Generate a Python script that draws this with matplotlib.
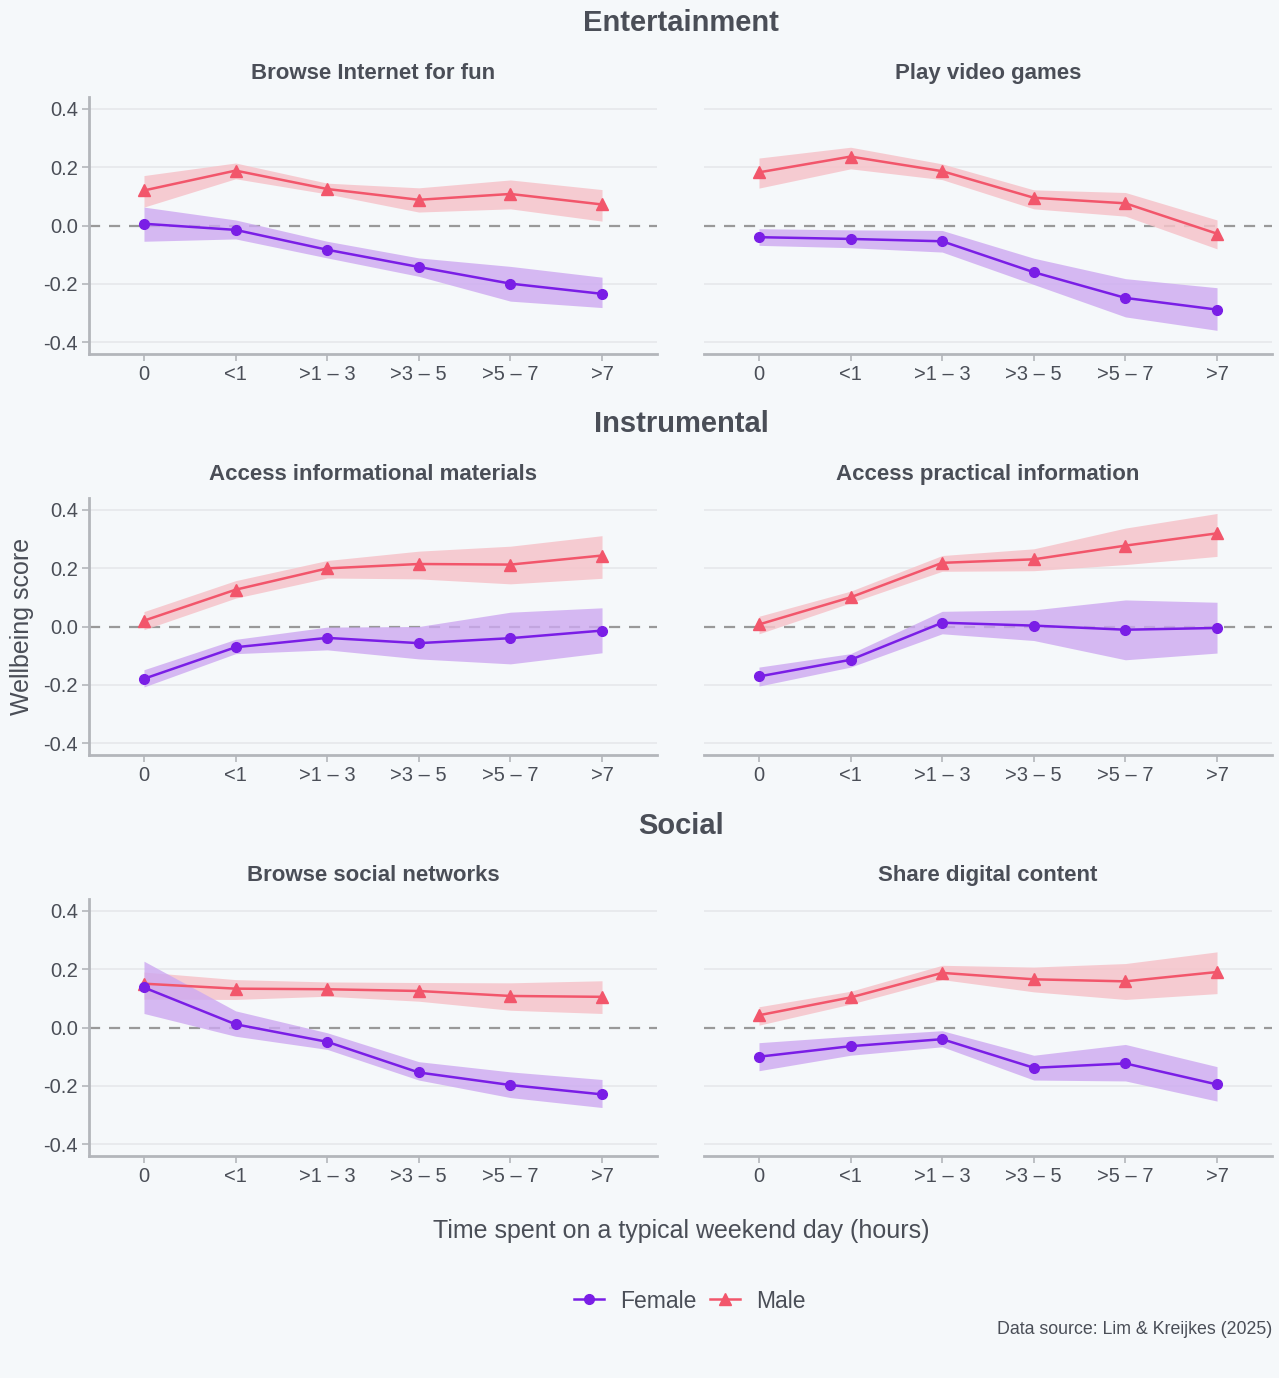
import numpy as np
import matplotlib.pyplot as plt

# categories on the x axis
time_cats = ["0", "<1", ">1 – 3", ">3 – 5", ">5 – 7", ">7"]

# Entertainment: Browse Internet for fun
internet_f = [0.006, -0.015, -0.083, -0.142, -0.199, -0.234]
internet_f_lo = [-0.054, -0.046, -0.111, -0.174, -0.259, -0.281]
internet_f_hi = [0.063, 0.019, -0.054, -0.111, -0.140, -0.177]
internet_m = [0.120, 0.188, 0.125, 0.088, 0.108, 0.072]
internet_m_lo = [0.063, 0.160, 0.108, 0.046, 0.057, 0.015]
internet_m_hi = [0.171, 0.214, 0.145, 0.129, 0.156, 0.123]

# Entertainment: Play video games
games_f = [-0.040, -0.046, -0.054, -0.160, -0.248, -0.288]
games_f_lo = [-0.068, -0.076, -0.091, -0.202, -0.313, -0.359]
games_f_hi = [-0.011, -0.015, -0.017, -0.112, -0.182, -0.213]
games_m = [0.182, 0.236, 0.186, 0.095, 0.076, -0.028]
games_m_lo = [0.128, 0.194, 0.157, 0.057, 0.032, -0.080]
games_m_hi = [0.231, 0.268, 0.211, 0.122, 0.113, 0.019]

# Instrumental: Access informational materials
infomat_f = [-0.179, -0.071, -0.039, -0.057, -0.040, -0.014]
infomat_f_lo = [-0.207, -0.093, -0.080, -0.111, -0.128, -0.090]
infomat_f_hi = [-0.148, -0.044, -0.002, 0.000, 0.049, 0.064]
infomat_m = [0.020, 0.126, 0.199, 0.214, 0.212, 0.243]
infomat_m_lo = [-0.011, 0.097, 0.166, 0.163, 0.146, 0.165]
infomat_m_hi = [0.051, 0.157, 0.226, 0.258, 0.275, 0.311]

# Instrumental: Access practical information
practical_f = [-0.171, -0.114, 0.013, 0.003, -0.011, -0.005]
practical_f_lo = [-0.204, -0.139, -0.025, -0.048, -0.114, -0.091]
practical_f_hi = [-0.139, -0.093, 0.052, 0.057, 0.091, 0.083]
practical_m = [0.007, 0.100, 0.218, 0.230, 0.277, 0.319]
practical_m_lo = [-0.025, 0.081, 0.189, 0.191, 0.212, 0.240]
practical_m_hi = [0.035, 0.121, 0.243, 0.266, 0.337, 0.387]

# Social: Browse social networks
socialnet_f = [0.137, 0.011, -0.049, -0.154, -0.197, -0.229]
socialnet_f_lo = [0.048, -0.030, -0.075, -0.180, -0.240, -0.274]
socialnet_f_hi = [0.227, 0.057, -0.018, -0.117, -0.152, -0.178]
socialnet_m = [0.150, 0.133, 0.131, 0.125, 0.108, 0.105]
socialnet_m_lo = [0.097, 0.096, 0.107, 0.090, 0.059, 0.048]
socialnet_m_hi = [0.190, 0.164, 0.156, 0.154, 0.153, 0.160]

# Social: Share digital content
share_f = [-0.100, -0.064, -0.040, -0.138, -0.123, -0.195]
share_f_lo = [-0.148, -0.095, -0.066, -0.180, -0.183, -0.252]
share_f_hi = [-0.052, -0.030, -0.011, -0.095, -0.058, -0.134]
share_m = [0.042, 0.103, 0.187, 0.165, 0.158, 0.190]
share_m_lo = [0.008, 0.080, 0.164, 0.122, 0.096, 0.116]
share_m_hi = [0.071, 0.124, 0.213, 0.207, 0.219, 0.259]

section_titles = ["Entertainment", "Instrumental", "Social"]
panel_titles = [["Browse Internet for fun", "Play video games"],
                ["Access informational materials", "Access practical information"],
                ["Browse social networks", "Share digital content"]]
panel_data = [
    [(internet_f, internet_f_lo, internet_f_hi, internet_m, internet_m_lo, internet_m_hi),
     (games_f, games_f_lo, games_f_hi, games_m, games_m_lo, games_m_hi)],
    [(infomat_f, infomat_f_lo, infomat_f_hi, infomat_m, infomat_m_lo, infomat_m_hi),
     (practical_f, practical_f_lo, practical_f_hi, practical_m, practical_m_lo, practical_m_hi)],
    [(socialnet_f, socialnet_f_lo, socialnet_f_hi, socialnet_m, socialnet_m_lo, socialnet_m_hi),
     (share_f, share_f_lo, share_f_hi, share_m, share_m_lo, share_m_hi)],
]

BG = "#f5f8fa"
TXT = "#4a4e57"
FEMALE = "#7a1ee6"
MALE = "#f2566b"
SPINE = "#b3b6bb"

plt.rcParams["font.family"] = ["Liberation Sans", "DejaVu Sans"]

fig = plt.figure(figsize=(12.79, 13.78), dpi=100, facecolor=BG)

W, H = 1279, 1378
col_left = [89, 704]
ax_w = 568
row_top = [97, 498, 899]
ax_h = 257
section_y = [23, 424, 826]

x = np.arange(len(time_cats))
handles = None
for r in range(3):
    fig.text(681 / W, 1 - section_y[r] / H, section_titles[r], ha="center", va="center",
             fontsize=21, fontweight="bold", color=TXT)
    for c in range(2):
        ax = fig.add_axes([col_left[c] / W, 1 - (row_top[r] + ax_h) / H, ax_w / W, ax_h / H])
        ax.set_facecolor(BG)
        f, f_lo, f_hi, m, m_lo, m_hi = panel_data[r][c]

        for yv in [-0.4, -0.2, 0.2, 0.4]:
            ax.axhline(yv, color="#e8eaed", lw=1.4, zorder=0)
        ax.axhline(0, color="#999999", lw=1.6, ls=(0, (5, 4)), zorder=1)

        ax.fill_between(x, m_lo, m_hi, color="#f5c4ca", alpha=0.85, lw=0, zorder=2)
        ax.fill_between(x, f_lo, f_hi, color="#cda9f1", alpha=0.8, lw=0, zorder=2)
        hf, = ax.plot(x, f, color=FEMALE, lw=1.8, marker="o", ms=7, zorder=4, label="Female")
        hm, = ax.plot(x, m, color=MALE, lw=1.8, marker="^", ms=9, zorder=3, label="Male")
        handles = [hf, hm]

        ax.set_xlim(-0.6, 5.6)
        ax.set_ylim(-0.44, 0.44)
        ax.set_xticks(x)
        ax.set_xticklabels(time_cats)
        ax.set_yticks([-0.4, -0.2, 0.0, 0.2, 0.4])
        ax.set_yticklabels(["-0.4", "-0.2", "0.0", "0.2", "0.4"])
        ax.tick_params(axis="both", colors=SPINE, labelcolor=TXT, labelsize=14.5,
                       length=5, width=1.2)
        ax.tick_params(axis="x", pad=3)
        ax.tick_params(axis="y", pad=3)
        for s in ["top", "right"]:
            ax.spines[s].set_visible(False)
        ax.spines["bottom"].set_color(SPINE)
        ax.spines["bottom"].set_linewidth(2)
        if c == 0:
            ax.spines["left"].set_color(SPINE)
            ax.spines["left"].set_linewidth(2)
        else:
            ax.spines["left"].set_visible(False)
            ax.tick_params(axis="y", left=False, labelleft=False)

        ax.set_title(panel_titles[r][c], fontsize=16, fontweight="bold", color=TXT, pad=13)

fig.text(22 / W, 1 - 626 / H, "Wellbeing score", rotation=90, ha="center", va="center",
         fontsize=18, color=TXT)
fig.text(681 / W, 1 - 1231 / H, "Time spent on a typical weekend day (hours)",
         ha="center", va="center", fontsize=18, color=TXT)
fig.legend(handles, ["Female", "Male"], loc="center", bbox_to_anchor=(690 / W, 1 - 1301 / H),
           ncol=2, frameon=False, fontsize=16.5, labelcolor=TXT, handlelength=1.3,
           columnspacing=0.6, handletextpad=0.7)
fig.text(1272 / W, 1 - 1330 / H, "Data source: Lim & Kreijkes (2025)", ha="right", va="center",
         fontsize=12.8, color=TXT)

fig.savefig("out.png", dpi=100, facecolor=BG)
